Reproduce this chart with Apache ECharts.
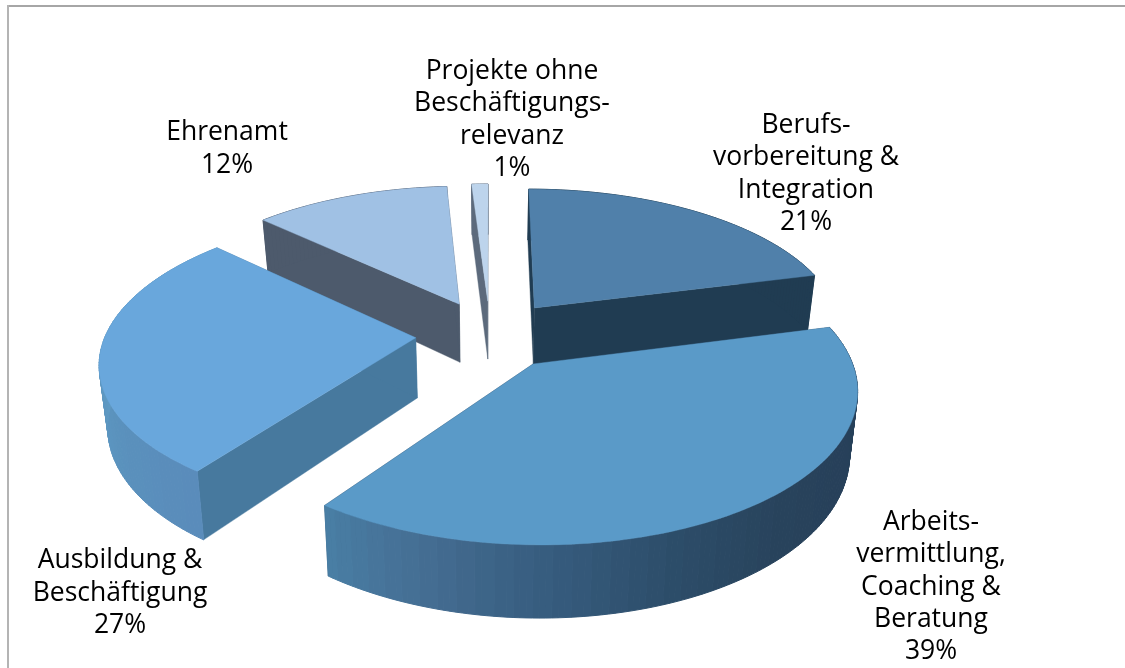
<!DOCTYPE html>
<html>
<head>
<meta charset="utf-8">
<title>Projekte nach Bereich</title>
<script src="https://cdn.jsdelivr.net/npm/echarts@6/dist/echarts.min.js"></script>
<style>
  html, body { margin: 0; background: #fff; }
  #chart { width: 1125px; height: 668px; }
</style>
</head>
<body>
<div id="chart"></div>
<script>
// clockwise from 12 o'clock
const categories = [
  'Berufs-\nvorbereitung &\nIntegration',
  'Arbeits-\nvermittlung,\nCoaching &\nBeratung',
  'Ausbildung &\nBeschäftigung',
  'Ehrenamt',
  'Projekte ohne\nBeschäftigungs-\nrelevanz'
];
const values = [21, 39, 27, 12, 1];

const topColors = ['#5080aa', '#5a9ac8', '#69a7dc', '#a0c1e4', '#bdd4ec'];
const sideColors = ['#203c52', '#274059', '#47799e', '#4d5a6c', '#5c6a7c'];
// outer wall colours along the arc of each slice
const wallStops = [
  ['#203c52', '#203c52'],
  ['#27405a', '#27405a', '#27405a', '#28435c', '#2c4c68', '#365b7d', '#446d92', '#4a80a6'],
  ['#5a8cbb', '#5a92bd', '#5f9ac4', '#5f9ac4', '#5f9ac4'],
  ['#4d5a6c', '#4d5a6c'],
  ['#5c6a7c', '#5c6a7c']
];
const labelX = [806, 931, 120, 227, 512];
const labelY = [174, 587, 593, 149, 120];
// back to front
const drawOrder = [4, 3, 0, 2, 1];

// camera-ish projection of the tilted pie
const cx = 490, cy = 334.5, rx = 310, ry = 144;
const persp = 0.15, depth = 60, converge = 0.022, explode = 0.24, bandDeg = 3;

const total = values.reduce((a, b) => a + b, 0);
const rad = d => d * Math.PI / 180;
let acc = 0;
const angles = values.map(v => {
  const s = acc / total * 360;
  acc += v;
  return [s, acc / total * 360];
});

function project(X, Y, low) {
  const f = 1 / (1 + persp * Y);
  let x = cx + rx * X * f;
  let y = cy - ry * Y * f;
  if (low) {
    x = cx + (x - cx) * (1 - converge);
    y += depth * f;
  }
  return [x, y];
}

function renderSlice(params, api) {
  const i = api.value(0);
  const [a0, a1] = angles[i];
  const mid = rad((a0 + a1) / 2);
  const ox = explode * Math.sin(mid), oy = explode * Math.cos(mid);
  const rim = [];
  const n = Math.max(2, Math.ceil(a1 - a0));
  for (let k = 0; k <= n; k++) {
    const a = rad(a0 + (a1 - a0) * k / n);
    rim.push([ox + Math.sin(a), oy + Math.cos(a)]);
  }
  const p = low => project(ox, oy, low);
  const q = (pt, low) => project(pt[0], pt[1], low);
  const first = rim[0], last = rim[rim.length - 1];
  const poly = (points, fill, lineWidth) => ({
    type: 'polygon', shape: { points },
    style: { fill, stroke: fill, lineWidth: lineWidth || 0.4, lineJoin: 'round' }
  });

  // wall is a row of quads so the silhouette keeps its straight edges
  const wall = [];
  for (let k = 0; k < n; k++) {
    const deg = (a1 - a0) * k / n;
    const band = Math.floor(deg / bandDeg) * bandDeg / (a1 - a0);
    const fill = echarts.color.lerp(Math.min(1, band), wallStops[i]);
    wall.push(poly([q(rim[k], false), q(rim[k + 1], false), q(rim[k + 1], true), q(rim[k], true)], fill, 1));
  }
  const top = [p(false)].concat(rim.map(pt => q(pt, false)));

  return {
    type: 'group',
    children: [
      poly([p(false), q(first, false), q(first, true), p(true)], sideColors[i]),
      poly([p(false), q(last, false), q(last, true), p(true)], sideColors[i])
    ].concat(wall, [
      poly(top, topColors[i]),
      {
        type: 'text',
        style: {
          text: categories[i] + '\n' + values[i] + '%',
          x: labelX[i], y: labelY[i],
          align: 'center', verticalAlign: 'middle',
          font: '26.5px "Open Sans"', lineHeight: 32.2, fill: '#000'
        }
      }
    ])
  };
}

const chart = echarts.init(document.getElementById('chart'), null, { renderer: 'canvas' });
chart.setOption({
  animation: false,
  backgroundColor: '#fff',
  graphic: [
    { type: 'line', shape: { x1: 7.5, y1: 6, x2: 1125, y2: 6 }, style: { stroke: '#a6a6a6', lineWidth: 2 } },
    { type: 'line', shape: { x1: 8, y1: 5, x2: 8, y2: 668 }, style: { stroke: '#b4b4b4', lineWidth: 2 } }
  ],
  series: [{
    type: 'custom',
    coordinateSystem: 'none',
    renderItem: renderSlice,
    silent: true,
    data: drawOrder.map(i => [i])
  }]
});
</script>
</body>
</html>
